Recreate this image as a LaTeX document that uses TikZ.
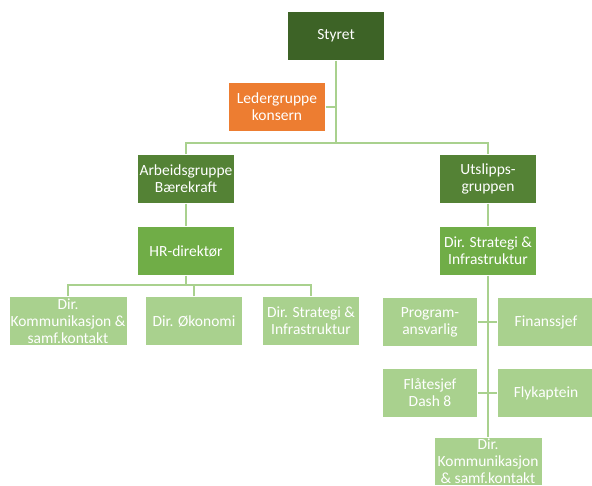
\documentclass[tikz,border=0pt]{standalone}
\usepackage{fontspec}
\setmainfont{Carlito}
\usetikzlibrary{positioning}

\definecolor{topgreen}{RGB}{61,99,38}
\definecolor{midgreen}{RGB}{84,130,53}
\definecolor{lightgreen}{RGB}{112,173,71}
\definecolor{palegreen}{RGB}{169,209,142}
\definecolor{boxorange}{RGB}{237,125,49}

\begin{document}
\begin{tikzpicture}[%
        x = 1pt,
        y = -1pt,
        box/.style = {%
            draw = white,
            line width = 0.4pt,
            text = white,
            align = center,
            minimum width = 97pt,
            minimum height = 49pt,
            inner sep = 1pt,
            font = \fontsize{15.5}{17}\selectfont
        },
        link/.style = {%
            draw = palegreen,
            line width = 1.2pt
        }
    ]

        % Frame of the picture.
        \useasboundingbox (0, 0) rectangle (592, 486);

        % Top levels.
        \node[box, fill = topgreen] (styret) at (336, 36) {Styret};
        \node[box, fill = boxorange] (leder) at (277, 107) {Ledergruppe\\konsern};
        \node[box, fill = midgreen] (arbeid) at (186, 179) {Arbeidsgruppe\\Bærekraft};
        \node[box, fill = midgreen] (utslipp) at (488, 179) {Utslipps-\\gruppen};

        % Second level.
        \node[box, fill = lightgreen] (hr) at (186, 251) {HR-direktør};
        \node[box, fill = lightgreen] (dirstrat) at (488, 251) {Dir. Strategi \&\\Infrastruktur};

        % Left group.
        \node[box, fill = palegreen, minimum width = 118pt] (komm) at (68, 321)
            {Dir.\\Kommunikasjon \&\\samf.kontakt};
        \node[box, fill = palegreen] (okon) at (194, 321) {Dir. Økonomi};
        \node[box, fill = palegreen] (strat) at (311, 321) {Dir. Strategi \&\\Infrastruktur};

        % Right group.
        \node[box, fill = palegreen, minimum width = 95pt] (prog) at (430, 322) {Program-\\ansvarlig};
        \node[box, fill = palegreen] (finans) at (546, 322) {Finanssjef};
        \node[box, fill = palegreen, minimum width = 95pt] (flate) at (430, 393) {Flåtesjef\\Dash 8};
        \node[box, fill = palegreen] (flyk) at (546, 393) {Flykaptein};
        \node[box, fill = palegreen, minimum width = 108pt, minimum height = 48pt] (komm2) at (488, 461)
            {Dir.\\Kommunikasjon\\\& samf.kontakt};

        % Bus points.
        \coordinate (topbus) at (336, 143);
        \coordinate (leftbus) at (186, 285);

        % Connectors.
        \draw[link] (styret.south) -- (topbus);
        \draw[link] (leder.east) -- (leder.east -| styret.south);
        \draw[link] (arbeid.north) |- (topbus) -| (utslipp.north);
        \draw[link] (arbeid.south) -- (hr.north);
        \draw[link] (utslipp.south) -- (dirstrat.north);
        \draw[link] (hr.south) -- (leftbus);
        \draw[link] (komm.north) |- (leftbus) -| (strat.north);
        \draw[link] (okon.north) -- (okon.north |- leftbus);
        \draw[link] (dirstrat.south) -- (komm2.north);
        \draw[link] (prog.east) -- (finans.west);
        \draw[link] (flate.east) -- (flyk.west);
    \end{tikzpicture}
\end{document}
